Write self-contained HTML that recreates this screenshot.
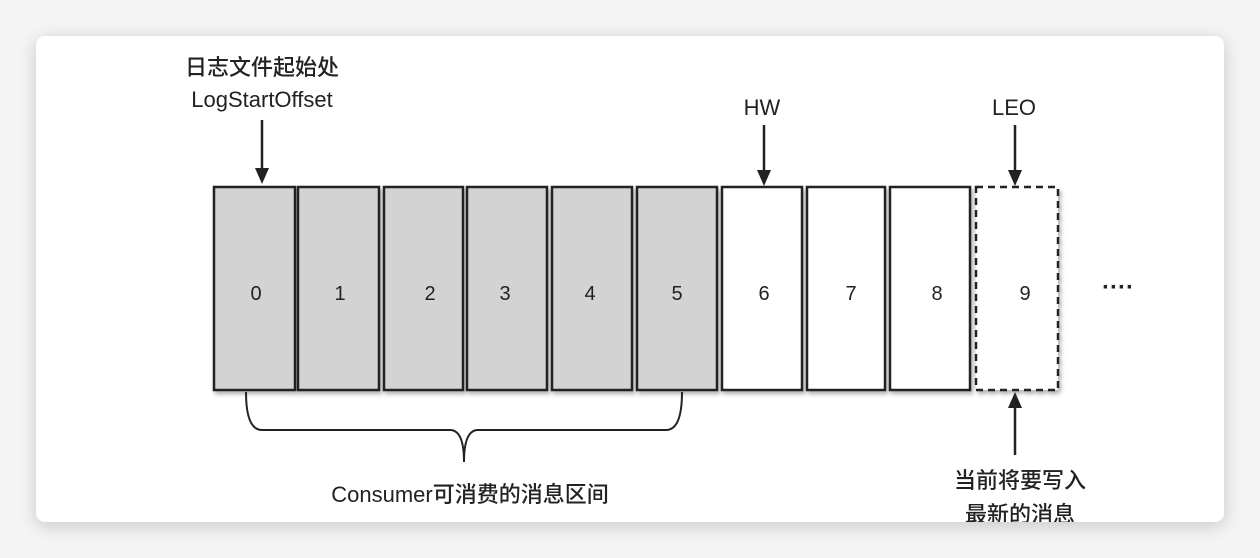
<!DOCTYPE html>
<html><head><meta charset="utf-8"><style>
html,body{margin:0;padding:0;background:#f4f4f4;width:1260px;height:558px;overflow:hidden}
.card{position:absolute;left:36px;top:36px;width:1188px;height:486px;background:#fff;border-radius:9px;box-shadow:0 4px 18px rgba(0,0,0,0.18);overflow:hidden}
svg{position:absolute;left:-36px;top:-36px}
text{font-family:"Liberation Sans","Noto Sans CJK SC",sans-serif;fill:#222}
</style></head><body>
<div class="card">
<svg width="1260" height="558" viewBox="0 0 1260 558">
<defs><filter id="s" x="-10%" y="-10%" width="130%" height="130%"><feDropShadow dx="2" dy="3" stdDeviation="2" flood-opacity="0.3"/></filter></defs>
<g stroke="#222" stroke-width="2.5" filter="url(#s)">
<rect x="214" y="187" width="81" height="203" fill="#d3d3d3"/>
<rect x="298" y="187" width="81" height="203" fill="#d3d3d3"/>
<rect x="384" y="187" width="79" height="203" fill="#d3d3d3"/>
<rect x="467" y="187" width="80" height="203" fill="#d3d3d3"/>
<rect x="552" y="187" width="80" height="203" fill="#d3d3d3"/>
<rect x="637" y="187" width="80" height="203" fill="#d3d3d3"/>
<rect x="722" y="187" width="80" height="203" fill="#fff"/>
<rect x="807" y="187" width="78" height="203" fill="#fff"/>
<rect x="890" y="187" width="80" height="203" fill="#fff"/>
<rect x="976" y="187" width="82" height="203" fill="#fff" stroke-dasharray="7,5"/>
</g>
<g font-size="20" text-anchor="middle">
<text x="256" y="300">0</text><text x="340" y="300">1</text><text x="430" y="300">2</text><text x="505" y="300">3</text><text x="590" y="300">4</text><text x="677" y="300">5</text><text x="764" y="300">6</text><text x="851" y="300">7</text><text x="937" y="300">8</text><text x="1025" y="300">9</text>
</g>
<text x="1118" y="295" font-size="24" font-weight="bold" text-anchor="middle">····</text>
<g stroke="#222" stroke-width="2.5" fill="none">
<line x1="262" y1="120" x2="262" y2="170"/>
<line x1="764" y1="125" x2="764" y2="172"/>
<line x1="1015" y1="125" x2="1015" y2="172"/>
<line x1="1015" y1="455" x2="1015" y2="408"/>
<path d="M246 392 Q246 430 262 430 L450 430 Q464 430 464 462 Q464 430 478 430 L666 430 Q682 430 682 392" stroke-width="2"/>
</g>
<g fill="#222">
<polygon points="255,168 269,168 262,184"/>
<polygon points="757,170 771,170 764,186"/>
<polygon points="1008,170 1022,170 1015,186"/>
<polygon points="1008,408 1022,408 1015,392"/>
</g>
<g font-size="22" text-anchor="middle" font-weight="500">
<text x="262" y="75">日志文件起始处</text>
<text x="262" y="107">LogStartOffset</text>
<text x="762" y="115">HW</text>
<text x="1014" y="115">LEO</text>
<text x="470" y="502">Consumer可消费的消息区间</text>
<text x="1020" y="488">当前将要写入</text>
<text x="1020" y="522">最新的消息</text>
</g>
</svg>
</div>
</body></html>
